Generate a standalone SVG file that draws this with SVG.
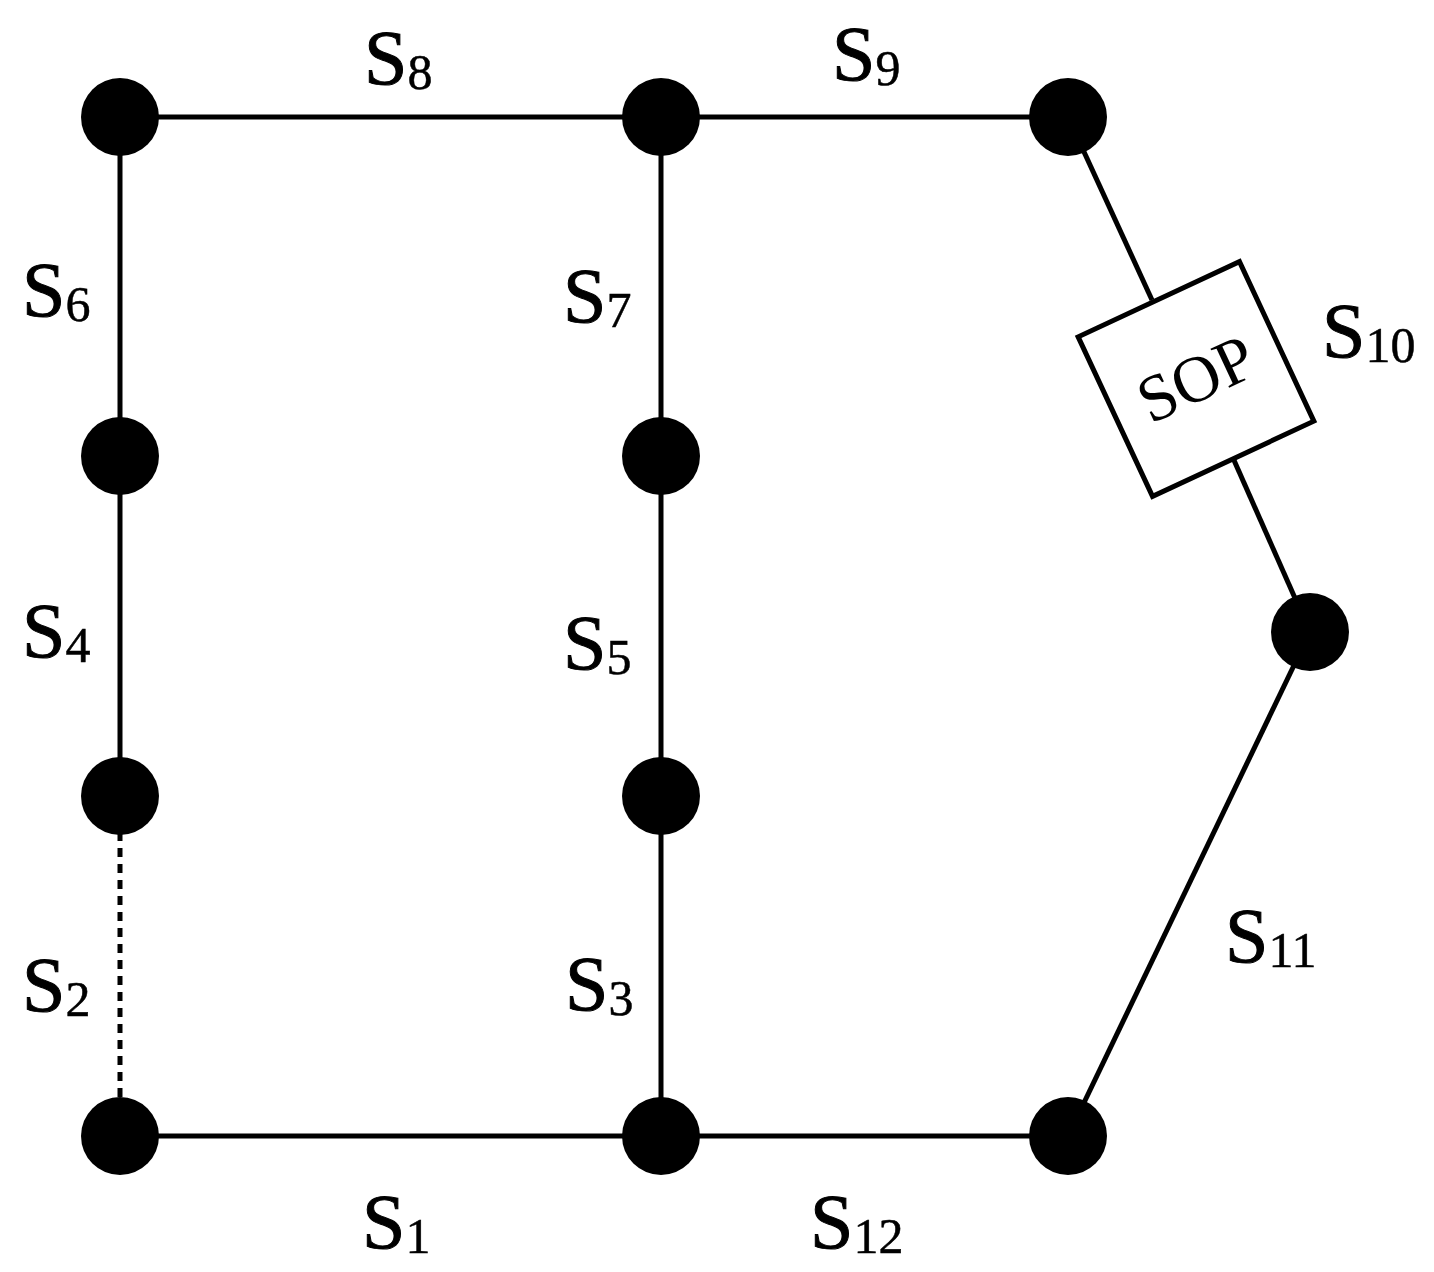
<svg xmlns="http://www.w3.org/2000/svg" width="1434" height="1272" viewBox="0 0 1434 1272">
<style>
.e{stroke:#000;stroke-width:5;fill:none}
.n{fill:#000}
.l{font-family:"Liberation Serif",serif;font-size:78px;fill:#000;stroke:#000;stroke-width:1}
.s{font-size:50px;stroke-width:0.5}
</style>
<rect width="1434" height="1272" fill="#fff"/>
<g id="connectors">
<line class="e" x1="120" y1="117" x2="1068" y2="117"/>
<line class="e" x1="120" y1="117" x2="120" y2="796"/>
<line class="e" x1="120" y1="800" x2="120" y2="1136" stroke-dasharray="9,7"/>
<line class="e" x1="661" y1="117" x2="661" y2="1136"/>
<line class="e" x1="120" y1="1136" x2="1068" y2="1136"/>
<line class="e" x1="1068" y1="117" x2="1152" y2="300"/>
<line class="e" x1="1233" y1="458" x2="1310" y2="632"/>
<line class="e" x1="1310" y1="632" x2="1068" y2="1136"/>
</g>
<g id="sop">
<g transform="translate(1196,379) rotate(-25)">
<rect x="-89" y="-88" width="178" height="176" fill="#fff" stroke="#000" stroke-width="5"/>
<text x="0" y="22" text-anchor="middle" font-family="Liberation Serif,serif" font-size="66">SOP</text>
</g>
</g>
<g id="n1"><circle class="n" cx="120" cy="117" r="39"/></g>
<g id="n2"><circle class="n" cx="661" cy="117" r="39"/></g>
<g id="n3"><circle class="n" cx="1068" cy="117" r="39"/></g>
<g id="n4"><circle class="n" cx="120" cy="456" r="39"/></g>
<g id="n5"><circle class="n" cx="661" cy="456" r="39"/></g>
<g id="n6"><circle class="n" cx="120" cy="796" r="39"/></g>
<g id="n7"><circle class="n" cx="661" cy="796" r="39"/></g>
<g id="n8"><circle class="n" cx="1310" cy="632" r="39"/></g>
<g id="n9"><circle class="n" cx="120" cy="1136" r="39"/></g>
<g id="n10"><circle class="n" cx="661" cy="1136" r="39"/></g>
<g id="n11"><circle class="n" cx="1068" cy="1136" r="39"/></g>
<g id="labels">
<text class="l" x="364" y="84">S<tspan class="s" dy="5">8</tspan></text>
<text class="l" x="832" y="80">S<tspan class="s" dy="5">9</tspan></text>
<text class="l" x="22" y="316">S<tspan class="s" dy="5">6</tspan></text>
<text class="l" x="563" y="322">S<tspan class="s" dy="5">7</tspan></text>
<text class="l" x="1322" y="357">S<tspan class="s" dy="5">10</tspan></text>
<text class="l" x="22" y="657">S<tspan class="s" dy="5">4</tspan></text>
<text class="l" x="563" y="669">S<tspan class="s" dy="5">5</tspan></text>
<text class="l" x="1225" y="962">S<tspan class="s" dy="5">11</tspan></text>
<text class="l" x="22" y="1011">S<tspan class="s" dy="5">2</tspan></text>
<text class="l" x="565" y="1010">S<tspan class="s" dy="5">3</tspan></text>
<text class="l" x="362" y="1248">S<tspan class="s" dy="5">1</tspan></text>
<text class="l" x="810" y="1248">S<tspan class="s" dy="5">12</tspan></text>
</g>
</svg>
